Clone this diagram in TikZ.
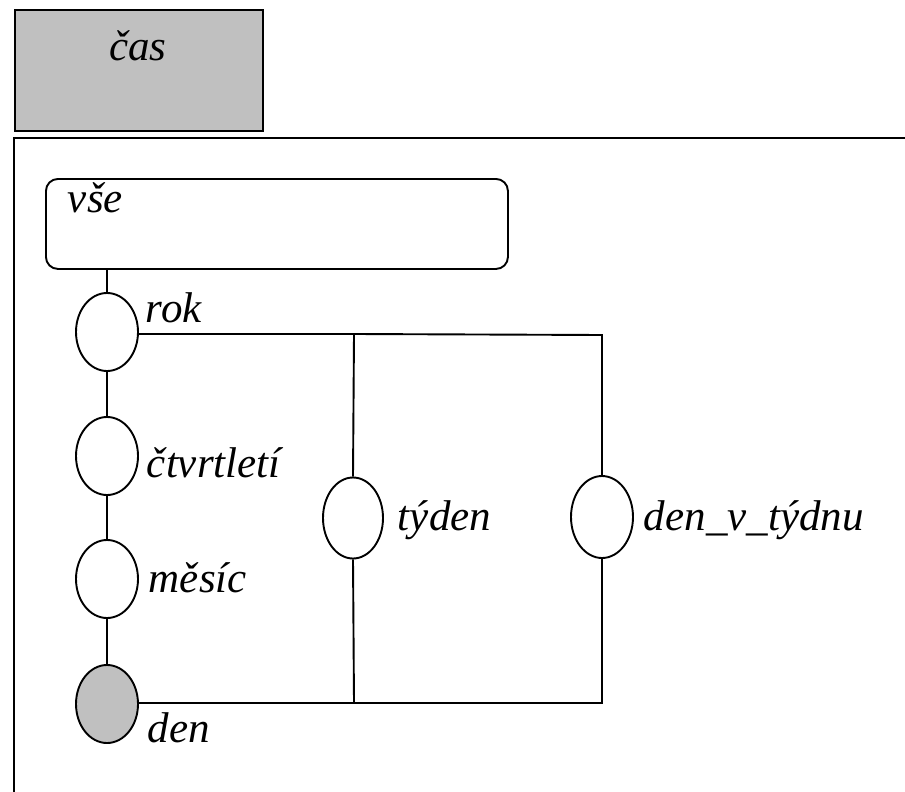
\documentclass[tikz,border=0pt]{standalone}
\usepackage{fontspec}
\setmainfont{Liberation Serif}[ItalicFont={Liberation Serif Italic}]
\newfontfamily\lblfont{Liberation Serif Italic}
\usetikzlibrary{shapes.geometric}
\definecolor{boxgrey}{HTML}{C0C0C0}
\begin{document}
\begin{tikzpicture}[x=1pt,y=-1pt,line width=1.9pt,
  lvl/.style={draw,ellipse,minimum width=62pt,minimum height=78pt,inner sep=0pt,fill=white},
  lbl/.style={anchor=base west,inner sep=0pt,font=\lblfont\fontsize{43}{50}\selectfont},
]
\useasboundingbox (0,0) rectangle (905,792);
% dimension box
\node (casbox) [draw,fill=boxgrey,minimum width=248pt,minimum height=121pt,anchor=north west,inner sep=0pt] at (14,9) {};
\node (cas) [lbl,anchor=base] at (138,61) {čas};
% frame
\draw[line width=2.2pt] (905,138) -- (14,138) -- (14,792);
% top level
\node (vse) [draw,rounded corners=12pt,minimum width=462pt,minimum height=90pt,anchor=north west,inner sep=0pt] at (45,178) {};
\node (vsel) [lbl] at (67,212) {vše};
% levels
\node (rok) [lvl] at (107,332) {};
\node (ctvrt) [lvl] at (107,456) {};
\node (mesic) [lvl] at (107,579) {};
\node (den) [lvl,fill=boxgrey] at (107,704) {};
\node (tyden) [lvl,minimum width=60pt,minimum height=81pt] at (353,518) {};
\node (dvt) [lvl,minimum width=62pt,minimum height=82pt] at (602,517) {};
% labels
\node (rokl) [lbl] at (145,322) {rok};
\node (ctvrtl) [lbl] at (146,477) {čtvrtletí};
\node (mesicl) [lbl] at (148,592) {měsíc};
\node (denl) [lbl] at (147,742) {den};
\node (tydenl) [lbl] at (397,530) {týden};
\node (dvtl) [lbl] at (643,530) {den\_v\_týdnu};
% corners
\coordinate (tl) at (354,334);
\coordinate (tr) at (602,335);
\coordinate (bl) at (354,703);
\coordinate (br) at (602,703);
% connectors
\draw (rok.north |- vse.south) -- (rok.north);
\draw (rok) -- (ctvrt);
\draw (ctvrt) -- (mesic);
\draw (mesic) -- (den);
\draw (rok.east |- tl) -- (tl) -- (tyden.north);
\draw (tyden.south) -- (bl);
\draw (tl) -- (tr) -- (dvt.north);
\draw (dvt.south) -- (br) -- (bl) -- (den.east |- bl);
\end{tikzpicture}
\end{document}
